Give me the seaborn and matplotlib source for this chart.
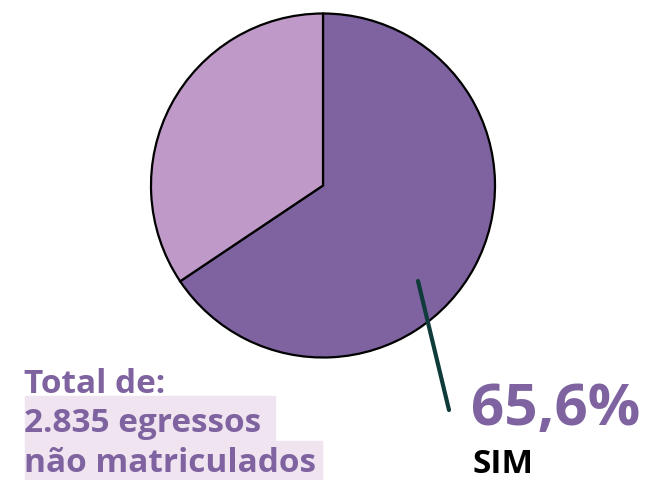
import matplotlib
matplotlib.use("Agg")
import matplotlib.pyplot as plt
from matplotlib.patches import Rectangle
from matplotlib.lines import Line2D
import seaborn as sns

# Share of graduates not enrolled
labels = ["SIM", "NÃO"]
shares = [65.6, 34.4]
colors = ["#7E63A0", "#BF9AC8"]

total_lines = ["Total de:", "2.835 egressos", "não matriculados"]
pct_label = "65,6%"

sns.set_theme(style="white")
plt.rcParams["font.family"] = ["Open Sans", "DejaVu Sans"]

W, H = 647, 481
fig = plt.figure(figsize=(W / 100, H / 100), dpi=100)


def fx(x):
    return x / W


def fy(y):
    return 1 - y / H


# Pie
cx, cy, r = 323, 186.5, 172
ax = fig.add_axes([fx(cx - r), fy(cy + r), 2 * r / W, 2 * r / H])
ax.pie(shares, colors=colors, startangle=90, counterclock=False,
       wedgeprops=dict(edgecolor="black", linewidth=1.6))
ax.set_xlim(-1, 1)
ax.set_ylim(-1, 1)
ax.set_aspect("equal")
ax.axis("off")

# Highlight boxes behind the total text
fig.patches.append(Rectangle((fx(25), fy(442)), fx(275) - fx(25), fy(397) - fy(442),
                             transform=fig.transFigure, color="#EFE4F0", zorder=0))
fig.patches.append(Rectangle((fx(25), fy(481)), fx(322) - fx(25), fy(442) - fy(481),
                             transform=fig.transFigure, color="#EFE4F0", zorder=0))

purple = "#7E63A0"
for txt, base in zip(total_lines, [393, 432, 472]):
    fig.text(fx(24), fy(base), txt, color=purple, fontsize=24, fontweight="bold",
             ha="left", va="baseline")

# Leader line
fig.add_artist(Line2D([fx(418), fx(449)], [fy(282), fy(411)], color="#0F3B3A",
                      linewidth=3, transform=fig.transFigure, solid_capstyle="round"))

fig.text(fx(471), fy(425), pct_label, color=purple, fontsize=42, fontweight="bold",
         ha="left", va="baseline")
fig.text(fx(473), fy(473), labels[0], color="black", fontsize=24, fontweight="bold",
         ha="left", va="baseline")

fig.savefig("out.png", dpi=100, facecolor="white")
